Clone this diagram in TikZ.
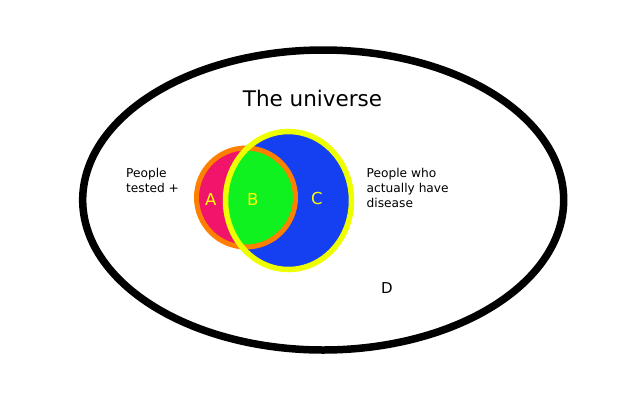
\documentclass[tikz,border=0pt]{standalone}
\usepackage{fontspec}
\setmainfont{DejaVu Sans}
\definecolor{redfill}{HTML}{F0146A}
\definecolor{orangering}{HTML}{FF7F00}
\definecolor{bluefill}{HTML}{1440F2}
\definecolor{greenfill}{HTML}{10F220}
\definecolor{yellowring}{HTML}{EEFF00}
\definecolor{labelyellow}{HTML}{FFFF00}
\tikzset{
  smalltext/.style={font=\fontsize{12.2}{14.8}\selectfont, align=left, inner sep=0pt},
  setlabel/.style={font=\fontsize{16.5}{19}\selectfont, text=labelyellow, inner sep=0pt},
}
\begin{document}
\begin{tikzpicture}[x=1pt,y=-1pt, line join=round]
\useasboundingbox[fill=white] (0,0) rectangle (640,400);
% universe (ring)
\draw[black, line width=7.5pt] plot[domain=0:359, samples=360, smooth cycle]
  ({323.2+240.5*cos(\x)},{200+150*sin(\x)});
% set A (tested +)
\fill[redfill] (246,197.5) circle [radius=49.5];
% set C (disease)
\fill[bluefill] (288.5,200.5) ellipse [x radius=63, y radius=69];
% intersection B
\begin{scope}
  \clip (246,197.5) circle [radius=49.5];
  \fill[greenfill] (288.5,200.5) ellipse [x radius=63, y radius=69];
\end{scope}
\draw[orangering, line width=5pt] (246,197.5) circle [radius=49.5];
\draw[yellowring, line width=5.5pt] (288.5,200.5) ellipse [x radius=63, y radius=69];
% texts
\node (title) at (312.5,98.5) {\fontsize{21.5}{25}\selectfont The universe};
\node[smalltext, anchor=north west] (tested) at (126,168) {People\\tested +};
\node[smalltext, anchor=north west] (disease) at (366.5,168) {People who\\actually have\\disease};
\node[setlabel] (A) at (210.7,199) {A};
\node[setlabel] (B) at (252.7,199) {B};
\node[setlabel] (C) at (317,198.5) {C};
\node[font=\fontsize{15}{18}\selectfont, inner sep=0pt] (D) at (387,288) {D};
\end{tikzpicture}
\end{document}
